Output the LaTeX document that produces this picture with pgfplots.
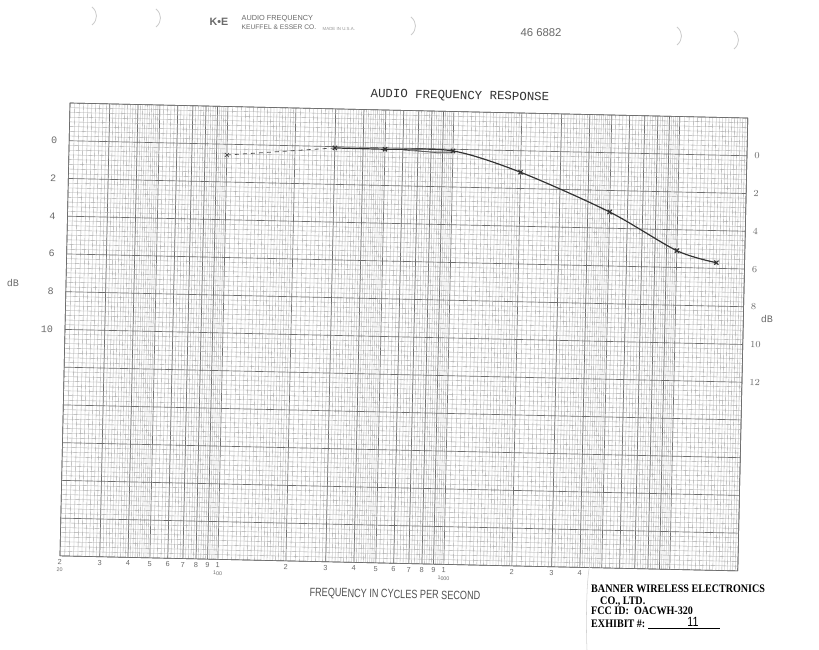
\documentclass[border=0pt]{standalone}
\usepackage{pgfplots}
\pgfplotsset{compat=1.18}
\usepackage{fontspec}
\setmainfont{Liberation Serif}
\setsansfont{Liberation Sans}
\setmonofont{Liberation Mono}
\definecolor{ink}{HTML}{333333}
\definecolor{gridA}{HTML}{A6A6A6}
\definecolor{gridB}{HTML}{6E6E6E}
\definecolor{lab}{HTML}{6A6A6A}
% minor grid positions of the audio-frequency paper
\def\mtl{}
\foreach \k in {21,22,...,49}{\xdef\mtl{\mtl\k,}}
\foreach \k in {52,54,...,98}{\xdef\mtl{\mtl\k,}}
\foreach \k in {105,110,...,195}{\xdef\mtl{\mtl\k,}}
\foreach \k in {210,220,...,490}{\xdef\mtl{\mtl\k,}}
\foreach \k in {520,540,...,980}{\xdef\mtl{\mtl\k,}}
\foreach \k in {1050,1100,...,1950}{\xdef\mtl{\mtl\k,}}
\foreach \k in {2100,2200,...,4900}{\xdef\mtl{\mtl\k,}}
\foreach \k in {5200,5400,...,9800}{\xdef\mtl{\mtl\k,}}
\foreach \k in {105,110,...,195}{\xdef\mtl{\mtl\k00,}}
\newcommand{\tl}[2]{\shortstack{#1\\[-0.5pt]{\fontsize{4}{4}\selectfont #2}}}
\begin{document}
\begin{tikzpicture}[x=0.75pt,y=0.75pt]
\path[use as bounding box, fill=white] (0,0) rectangle (819,650);
% header of the paper
\node[font=\sffamily\bfseries\fontsize{8}{8}\selectfont, text=lab] at (219,628) {K•E};
\node[anchor=west, font=\sffamily\fontsize{5.5}{6}\selectfont, text=lab] at (237,631) {AUDIO FREQUENCY};
\node[anchor=west, font=\sffamily\fontsize{5}{6}\selectfont, text=lab] at (237,623) {KEUFFEL \& ESSER CO.};
\node[anchor=west, font=\sffamily\fontsize{3.3}{4}\selectfont, text=lab!70] at (318,621.5) {MADE IN U.S.A.};
\node[font=\sffamily\fontsize{8.5}{9}\selectfont, text=lab] at (541,617) {46 6882};
% punch-hole shadows
\foreach \px/\py in {95/634,159/632,414/624,680/614,737/610}{
  \draw[gray!40, line width=0.6pt] (\px-3,\py+9) .. controls (\px+3,\py+4) and (\px+3,\py-4) .. (\px-3,\py-9);
}
\begin{scope}[transform canvas={rotate around={-1.27:(70,547)}}]
\begin{axis}[
  at={(52.5pt,70.5pt)}, anchor=south west,
  scale only axis, width=508.5pt, height=339.75pt,
  xmode=log, xmin=20, xmax=20000,
  ymin=-2, ymax=22, y dir=reverse,
  axis line style={gridB, line width=0.5pt},
  xtick={20,30,40,50,60,70,80,90,100,200,300,400,500,600,700,800,900,1000,2000,3000,4000,5000,6000,7000,8000,9000,10000,20000},
  xticklabels={{\tl{2}{20}},3,4,5,6,7,8,9,{\tl{1}{100}},2,3,4,5,6,7,8,9,{\tl{1}{1000}},2,3,4,{},{},{},{},{},{},{}},
  minor xtick/.expanded={\mtl 20000},
  ytick={-2,0,...,22},
  yticklabels={{},0,2,4,6,8,10,{},{},{},{},{},{}},
  minor y tick num=7,
  grid=both,
  major grid style={gridB, line width=0.5pt},
  minor grid style={gridA, line width=0.25pt},
  major tick length=0pt, minor tick length=0pt,
  xticklabel style={font=\sffamily\fontsize{5.5}{6}\selectfont, text=lab, inner sep=1.5pt, yshift=-1pt},
  yticklabel style={font=\ttfamily\fontsize{7.5}{8}\selectfont, text=lab, xshift=-5.5pt},
  log basis x=10,
]
\addplot[ink!85, dashed, line width=0.6pt] coordinates {(100,0.57) (300,0.07)};
\addplot[ink, line width=0.9pt, smooth, mark=x, mark size=2.2pt, mark options={solid}]
  coordinates {(300,0.07) (500,0.08) (1000,0.09) (2000,1.14) (5000,3.14) (10000,5.11) (15000,5.70)};
\addplot[ink, only marks, mark=x, mark size=2.2pt] coordinates {(100,0.57)};
\addplot[ink!80, line width=0.5pt, smooth] coordinates {(600,0.10) (800,0.17) (1000,0.14)};
\addplot[ink!80, line width=0.5pt, smooth] coordinates {(650,0.08) (850,0.20) (1000,0.18)};
\end{axis}
\begin{axis}[
  at={(52.5pt,70.5pt)}, anchor=south west,
  scale only axis, width=508.5pt, height=339.75pt,
  xmode=log, xmin=20, xmax=20000,
  ymin=-2, ymax=22, y dir=reverse,
  hide x axis,
  axis y line*=right,
  y axis line style={draw=none},
  ytick={0,2,...,12},
  major tick length=0pt,
  yticklabel style={font=\ttfamily\fontsize{7.5}{8}\selectfont, text=lab, xshift=2pt},
]
\addplot[draw=none] coordinates {(100,0)};
\end{axis}
\node[font=\ttfamily\fontsize{9.3}{10}\selectfont, text=ink] at (459.7,562.6) {AUDIO FREQUENCY RESPONSE};
\node[font=\sffamily\fontsize{9}{10}\selectfont, text=ink!85, xscale=0.76] at (405.8,62.3) {FREQUENCY IN CYCLES PER SECOND};
\node[font=\ttfamily\fontsize{7.5}{8}\selectfont, text=lab] at (17,366) {dB};
\node[font=\ttfamily\fontsize{7.5}{8}\selectfont, text=lab] at (771.6,346.5) {dB};
\end{scope}
% exhibit stamp
\draw[gray!35, line width=0.4pt] (590,86) .. controls (586,70) and (586,20) .. (587,0);
\begin{scope}[font=\bfseries\fontsize{8.6}{9}\selectfont]
\node[anchor=base west, inner sep=0pt, xscale=0.88] at (591,57) {BANNER WIRELESS ELECTRONICS};
\node[anchor=base west, inner sep=0pt, xscale=0.88] at (600,45) {CO., LTD.};
\node[anchor=base west, inner sep=0pt, xscale=0.88] at (591,35) {FCC ID:\ \ OACWH-320};
\node[anchor=base west, inner sep=0pt, xscale=0.88] at (591,22) {EXHIBIT \#:};
\end{scope}
\draw[black, line width=0.6pt] (648,21.5) -- (720,21.5);
\node[font=\sffamily\fontsize{10}{10}\selectfont, anchor=base, inner sep=0pt, xscale=0.8] at (693,23) {11};
\end{tikzpicture}
\end{document}
